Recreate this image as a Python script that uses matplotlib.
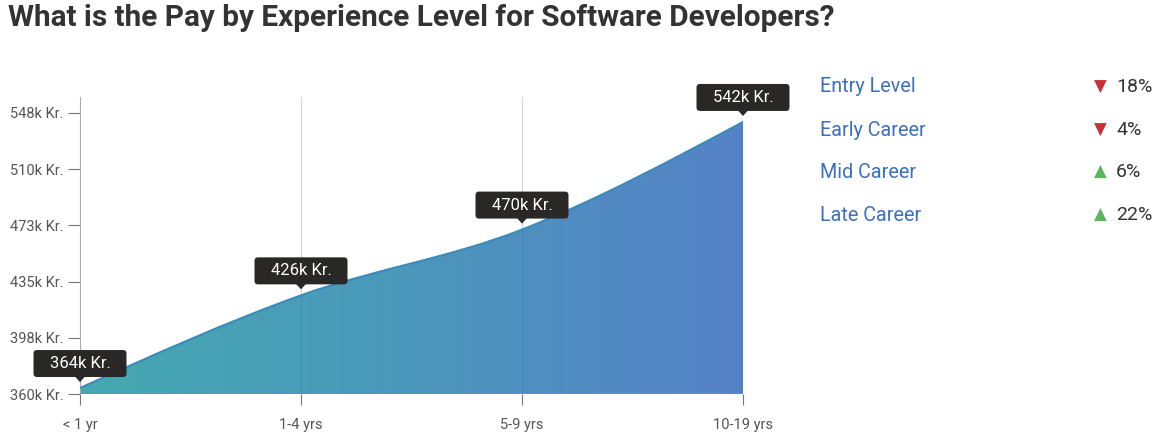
import numpy as np
import matplotlib
matplotlib.use("Agg")
import matplotlib.pyplot as plt
import matplotlib.transforms as mtrans
from matplotlib.path import Path
from matplotlib.patches import PathPatch, FancyBboxPatch, Polygon
from matplotlib.colors import LinearSegmentedColormap

# ---- data ----
categories = ["< 1 yr", "1-4 yrs", "5-9 yrs", "10-19 yrs"]
salaries_k = [364, 426, 470, 542]
point_labels = ["364k Kr.", "426k Kr.", "470k Kr.", "542k Kr."]
yticks_k = [360, 397.6, 435.2, 472.8, 510.4, 548]
ytick_labels = ["360k Kr.", "398k Kr.", "435k Kr.", "473k Kr.", "510k Kr.", "548k Kr."]
legend_names = ["Entry Level", "Early Career", "Mid Career", "Late Career"]
legend_changes = ["18%", "4%", "6%", "22%"]
legend_up = [False, False, True, True]

W, H = 1161, 448
fig = plt.figure(figsize=(W / 100, H / 100), dpi=100)
plt.rcParams["font.family"] = ["Roboto", "DejaVu Sans"]

def fx(px):
    return px / W

def fy(py):
    return 1 - py / H

ax = fig.add_axes([fx(80), fy(394), fx(743) - fx(80), fy(97) - fy(394)])
x = np.arange(len(categories), dtype=float)
y = np.array(salaries_k, dtype=float)
ax.set_xlim(0, len(categories) - 1)
ax.set_ylim(360, 558.7)

# monotone cubic (d3 curveMonotoneX) bezier path
def monotone_tangents(xs, ys):
    n = len(xs)
    h = np.diff(xs)
    s = np.diff(ys) / h
    t = np.zeros(n)
    for i in range(1, n - 1):
        if s[i - 1] * s[i] <= 0:
            t[i] = 0
        else:
            p = (s[i - 1] * h[i] + s[i] * h[i - 1]) / (h[i - 1] + h[i])
            t[i] = (np.sign(s[i - 1]) + np.sign(s[i])) * min(abs(s[i - 1]), abs(s[i]), 0.5 * abs(p))
    t[0] = (3 * s[0] - t[1]) / 2 if n > 2 else s[0]
    t[-1] = (3 * s[-1] - t[-2]) / 2 if n > 2 else s[-1]
    return t

t = monotone_tangents(x, y)
verts = [(x[0], y[0])]
codes = [Path.MOVETO]
for i in range(len(x) - 1):
    dx = (x[i + 1] - x[i]) / 3
    verts += [(x[i] + dx, y[i] + dx * t[i]), (x[i + 1] - dx, y[i + 1] - dx * t[i + 1]), (x[i + 1], y[i + 1])]
    codes += [Path.CURVE4] * 3
line_path = Path(verts, codes)
area_verts = verts + [(x[-1], 360), (x[0], 360), (x[0], y[0])]
area_codes = codes + [Path.LINETO, Path.LINETO, Path.CLOSEPOLY]
area_path = Path(area_verts, area_codes)

patch = PathPatch(area_path, facecolor="none", edgecolor="none")
ax.add_patch(patch)
cmap = LinearSegmentedColormap.from_list("g", ["#44aab0", "#4b97bb", "#5682c8"])
grad = np.linspace(0, 1, 256).reshape(1, -1)
im = ax.imshow(grad, cmap=cmap, aspect="auto", extent=[0, 3, 360, 558.7], zorder=1)
im.set_clip_path(patch)
ax.add_patch(PathPatch(line_path, facecolor="none", edgecolor="#3a8abd", lw=1.5, zorder=3))
ax.plot([x[-1], x[-1]], [360, y[-1]], color="#4b7fc6", lw=1.5, zorder=3)
ax.plot([x[0], x[-1]], [360, 360], color="#45a0b8", lw=1.2, zorder=3)

# grid
for xi in x[1:]:
    ax.axvline(xi, color="#d3d3d3", lw=0.8, zorder=0.5)
for xi in x[1:3]:
    gl, = ax.plot([xi, xi], [360, 558.7], color="#3a7aa8", lw=0.7, alpha=0.35, zorder=2)
    gl.set_clip_path(patch)

for s in ["top", "right", "bottom"]:
    ax.spines[s].set_visible(False)
ax.spines["left"].set_color("#aaaaaa")
ax.set_yticks(yticks_k)
ax.set_yticklabels(ytick_labels)
ax.set_xticks(x)
ax.set_xticklabels(categories)
ax.tick_params(axis="y", length=9, color="#777777", labelsize=10.5, labelcolor="#555555", pad=3)
ax.tick_params(axis="x", length=8, color="#777777", labelsize=10.5, labelcolor="#555555", pad=9)

# value labels (tooltip-style boxes)
for xi, yi, lab in zip(x, y, point_labels):
    tr = fig.dpi_scale_trans + mtrans.ScaledTranslation(xi, yi, ax.transData)
    box = FancyBboxPatch((-0.465, 0.11), 0.93, 0.27,
                         boxstyle="round,pad=0,rounding_size=0.035",
                         fc="#2a2727", ec="none", transform=tr, zorder=6, clip_on=False)
    ax.add_artist(box)
    tri = Polygon([(-0.05, 0.115), (0.05, 0.115), (0, 0.06)], closed=True,
                  fc="#2a2727", ec="none", transform=tr, zorder=6, clip_on=False)
    ax.add_artist(tri)
    ax.text(0, 0.245, lab, transform=tr, ha="center", va="center", color="white",
            fontsize=12, zorder=7, clip_on=False)

# title
fig.text(fx(8), fy(18), "What is the Pay by Experience Level for Software Developers?",
         fontsize=21.4, fontweight="bold", color="#333333", ha="left", va="center")

# legend
ys = [87, 130, 172, 215]
for name, ch, up, yy in zip(legend_names, legend_changes, legend_up, ys):
    fig.text(fx(820), fy(yy), name, fontsize=14.2, color="#3b6fc0", ha="left", va="center")
    fig.text(fx(1100), fy(yy), "▲" if up else "▼", fontsize=12,
             color="#5cb55c" if up else "#c7323a", ha="center", va="center", family="DejaVu Sans")
    fig.text(fx(1116), fy(yy), ch, fontsize=14, color="#333333", ha="left", va="center")

fig.savefig("out.png", dpi=100)
